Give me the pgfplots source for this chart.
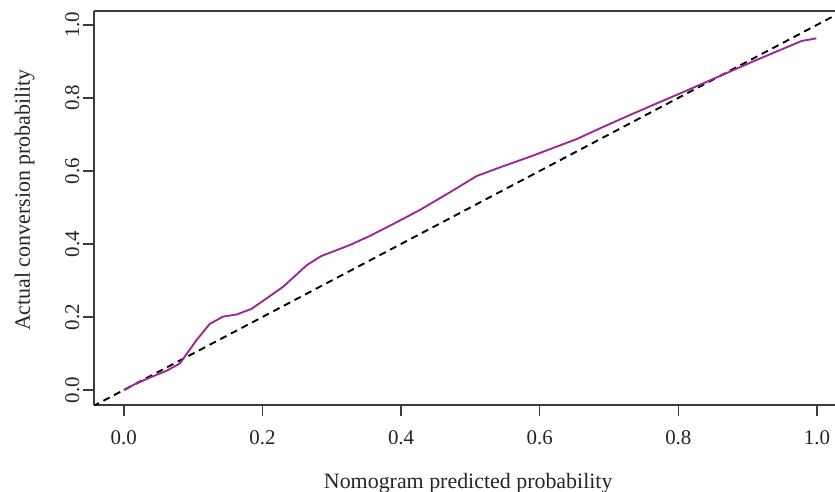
\documentclass[border=0pt]{standalone}
\usepackage{fontspec}
\setmainfont{Liberation Serif}
\usepackage{pgfplots}
\pgfplotsset{compat=1.18}

\definecolor{curvepurple}{RGB}{155,42,148}
\definecolor{axisgray}{RGB}{60,60,60}

\begin{document}
\begin{tikzpicture}
% page = R device region (axis box sits at the origin)
\useasboundingbox (-94bp,-87bp) rectangle (741bp,405bp);
\begin{axis}[
	scale only axis,
	width=741bp,
	height=394bp,
	xmin=-0.043, xmax=1.026,
	ymin=-0.041, ymax=1.038,
	axis x line=box,
	axis y line=left,
	axis line style={-, axisgray, line width=1.8bp},
	tick style={axisgray, line width=1.4bp},
	tick align=outside,
	major tick length=11bp,
	tick pos=left,
	xtick={0,0.2,0.4,0.6,0.8,1.0},
	ytick={0,0.2,0.4,0.6,0.8,1.0},
	/pgf/number format/assume math mode=true,
	/pgf/number format/.cd, fixed, fixed zerofill, precision=1,
	/pgfplots/.cd,
	ticklabel style={font=\fontsize{21}{24}\selectfont, text=black!85},
	xticklabel style={anchor=north, inner sep=0pt, yshift=-14.5bp},
	yticklabel style={xshift=-3.5bp, rotate=90, anchor=south, inner sep=0pt},
	xlabel={Nomogram predicted probability},
	ylabel={Actual conversion probability},
	label style={font=\fontsize{22}{26}\selectfont, text=black!85, inner sep=0pt},
	xlabel style={at={(axis description cs:0.505,0)}, anchor=base, yshift=-83bp},
	ylabel style={at={(axis description cs:-0.0864,0.52)}, anchor=base},
	clip=true,
]

% ideal calibration line
\addplot[black, line width=1.9bp, dash pattern=on 7bp off 5bp] coordinates {(-0.06,-0.06) (1.06,1.06)};

% calibration curve
\addplot[curvepurple, line width=1.9bp] coordinates {
(0,0) (0.016,0.016) (0.0375,0.034) (0.062,0.053) (0.081,0.073)
(0.105,0.137) (0.124,0.181) (0.143,0.201) (0.163,0.207) (0.184,0.222)
(0.206,0.251) (0.230,0.283) (0.264,0.342) (0.285,0.367) (0.326,0.397)
(0.355,0.422) (0.389,0.455) (0.427,0.493) (0.470,0.541) (0.509,0.586)
(0.543,0.610) (0.586,0.639) (0.653,0.687) (0.692,0.721) (0.730,0.753)
(0.764,0.781) (0.812,0.820) (0.860,0.860) (0.908,0.900) (0.978,0.956)
(0.999,0.963)
};
\end{axis}
\end{tikzpicture}
\end{document}
